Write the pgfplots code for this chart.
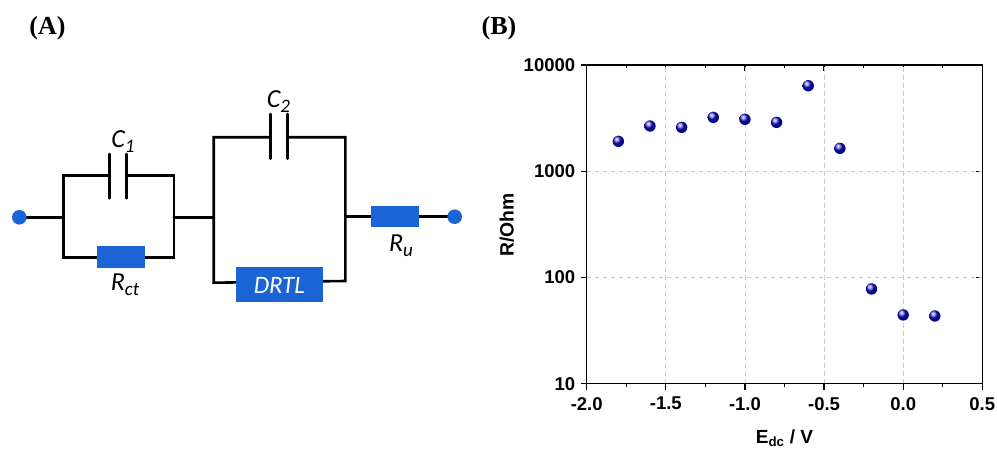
\documentclass[border=0pt]{standalone}
\usepackage{fontspec}
\setmainfont{Liberation Sans}
\newfontfamily\serifb{Liberation Serif}
\newfontfamily\carl{Carlito}
\usepackage{pgfplots}
\pgfplotsset{compat=1.18}
\definecolor{bluebox}{RGB}{27,100,214}
\newcommand{\lab}[2]{{\carl\itshape\fontsize{26}{26}\selectfont #1\raisebox{-5pt}{\fontsize{19}{19}\selectfont #2}}}
\pgfdeclareradialshading{myballshade}{\pgfpoint{-9bp}{11bp}}{%
 rgb(0bp)=(0.93,0.93,1);
 rgb(7bp)=(0.65,0.65,0.92);
 rgb(16bp)=(0.06,0.06,0.58);
 rgb(30bp)=(0,0,0.52);
 rgb(50bp)=(0,0,0.47);
 rgb(70bp)=(0,0,0.36);
 rgb(100bp)=(0,0,0.28)}
\pgfdeclareplotmark{myball}{%
 \pgfpathcircle{\pgfpointorigin}{\pgfplotmarksize}%
 \pgfshadepath{myballshade}{0}%
 \pgfusepath{discard}}
\begin{document}
\begin{tikzpicture}[x=1pt,y=1pt]
\clip (0,0) rectangle (997,448);
\useasboundingbox (0,0) rectangle (997,448);
\begin{scope}[x=1pt,y=-1pt,shift={(0,448pt)}]
\node[font=\serifb\bfseries\fontsize{26}{26}\selectfont,text=black] at (47.5,28.5) {(A)};
\node[font=\serifb\bfseries\fontsize{26}{26}\selectfont,text=black] at (499,28.5) {(B)};
\begin{scope}[line width=2.6pt,line cap=round,line join=miter]
\draw (19.3,217.3) -- (63.3,217.3);
\draw (109.7,175.7) -- (63.3,175.7) -- (63.3,257.3) -- (174,257.3) -- (174,175.7) -- (126.7,175.7);
\draw (109.7,154) -- (109.7,198.3);
\draw (126.7,154) -- (126.7,198.3);
\draw (174,217.3) -- (213.7,217.3);
\draw (270.3,137.3) -- (213.7,137.3) -- (213.7,282.7) -- (345.3,281) -- (345.3,137.3) -- (287.3,137.3);
\draw (270.3,114) -- (270.3,158.7);
\draw (287.3,114) -- (287.3,158.7);
\draw (345.3,216.7) -- (454.7,216.7);
\end{scope}
\fill[bluebox] (19.3,217.3) circle (7.3pt);
\fill[bluebox] (454.7,216.7) circle (7.3pt);
\fill[bluebox] (97.3,246) rectangle (145.3,267.7);
\fill[bluebox] (236,266.7) rectangle (323,302);
\fill[bluebox] (371,205.7) rectangle (419,227.3);
\node at (123,142) {\lab{C}{1}};
\node at (278.5,102) {\lab{C}{2}};
\node at (125,285) {\lab{R}{ct}};
\node at (401,245.5) {\lab{R}{u}};
\node[text=white,font=\carl\itshape\fontsize{25}{25}\selectfont] at (279.3,285) {DRTL};
\end{scope}
\begin{axis}[
 at={(586.7pt,64.3pt)},anchor=south west,
 scale only axis,width=395.6pt,height=318.7pt,
 xmin=-2,xmax=0.5,ymin=10,ymax=10000,ymode=log,
 log basis y=10,
 xtick={-2,-1.5,-1,-0.5,0,0.5},
 minor xtick={-1.75,-1.25,-0.75,-0.25,0.25},
 ytick={10,100,1000,10000},
 minor ytick={},
 axis line style={line width=1.3pt,black},
 major tick style={line width=1.3pt,black},
 minor tick style={line width=1.3pt,black},
 major tick length=6pt,minor tick length=3pt,
 tick pos=right,tick align=inside,
 xticklabels={},yticklabels={},
]
\end{axis}
\begin{axis}[
 at={(586.7pt,64.3pt)},anchor=south west,
 scale only axis,width=395.6pt,height=318.7pt,
 xmin=-2,xmax=0.5,ymin=10,ymax=10000,ymode=log,
 log basis y=10,
 xtick={-2,-1.5,-1,-0.5,0,0.5},
 minor xtick={-1.75,-1.25,-0.75,-0.25,0.25},
 ytick={10,100,1000,10000},
 minor ytick={},
 axis line style={line width=1.3pt,black},
 major tick style={line width=1.3pt,black},
 minor tick style={line width=1.3pt,black},
 major tick length=6pt,minor tick length=3pt,
 tick pos=left,tick align=outside,
 xticklabels={-2.0,-1.5,-1.0,-0.5,0.0,0.5},
 yticklabels={10,100,1000,10000},
 grid=major,
 major grid style={dash pattern=on 4.5pt off 3.5pt,gray!40,line width=0.8pt},
 tick label style={font=\bfseries\fontsize{18.5}{18.5}\selectfont,/pgf/number format/assume math mode=true},
 xticklabel style={yshift=-4pt},
 yticklabel style={xshift=-2pt},
 xlabel={E\textsubscript{dc} / V},
 ylabel={R/Ohm},
 xlabel style={font=\bfseries\fontsize{19}{19}\selectfont,at={(rel axis cs:0.5,-0.1867)},anchor=base},
 ylabel style={font=\bfseries\fontsize{19.3}{19.3}\selectfont,at={(rel axis cs:-0.202,0.498)},anchor=center},
]
\addplot[only marks,mark=myball,mark size=5.7pt] coordinates {
(-1.8,1912)(-1.6,2666)(-1.4,2590)(-1.2,3213)(-1.0,3083)(-0.8,2884)(-0.6,6380)(-0.4,1643)(-0.2,78)(0,44.4)(0.2,43.4)};
\end{axis}
\end{tikzpicture}
\end{document}
